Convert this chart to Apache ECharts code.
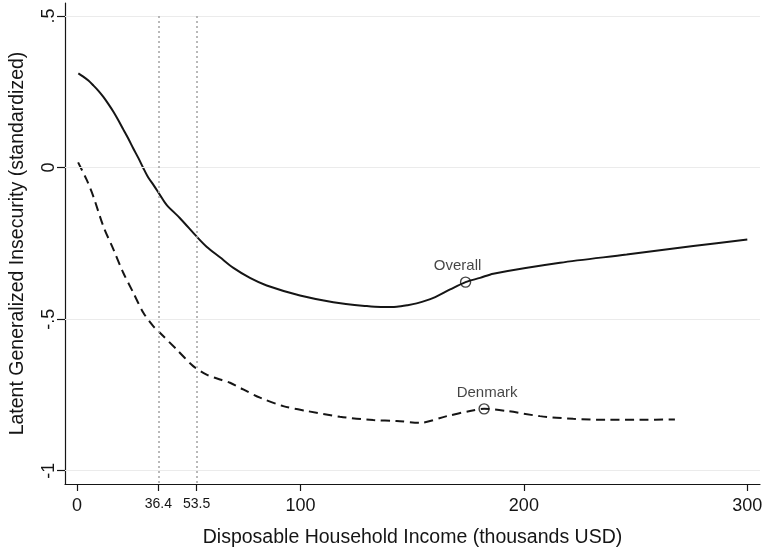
<!DOCTYPE html>
<html>
<head>
<meta charset="utf-8">
<script src="https://cdn.jsdelivr.net/npm/echarts@6/dist/echarts.min.js"></script>
<style>
  html, body { margin: 0; padding: 0; background: #fff; }
  #chart { width: 765px; height: 549px; }
</style>
</head>
<body>
<div id="chart"></div>
<script>
// Predicted latent insecurity by disposable household income
const overallIncome = [0.6, 2.8, 5.1, 7.3, 9.6, 11.8, 14.0, 16.3, 18.5, 20.7, 23.0, 25.2, 27.5, 29.7, 31.9, 34.2, 37.1, 40.1, 46.1, 53.6, 58, 64, 70, 77.4, 84.9, 99.8, 114.7, 129.7, 136, 143.1, 148, 152, 159.5, 167, 173.9, 180.4, 186.3, 216.2, 246, 275.8, 300];
const overallScore  = [0.311, 0.300, 0.287, 0.271, 0.253, 0.233, 0.210, 0.184, 0.156, 0.126, 0.095, 0.063, 0.031, -0.002, -0.033, -0.057, -0.090, -0.123, -0.167, -0.228, -0.261, -0.296, -0.331, -0.364, -0.389, -0.422, -0.444, -0.457, -0.460, -0.459, -0.454, -0.448, -0.430, -0.402, -0.378, -0.364, -0.350, -0.314, -0.287, -0.259, -0.237];

const denmarkIncome = [0.5, 4.3, 7.3, 11.8, 16.3, 20.7, 25.2, 29.7, 34.1, 37.1, 44.6, 52, 58, 64, 68.5, 74.4, 81.9, 92.3, 102.8, 117.7, 132.6, 143.1, 153.5, 165.5, 175.9, 182.2, 192.3, 207.2, 222.1, 237.1, 252, 267.6];
const denmarkScore  = [0.017, -0.040, -0.095, -0.194, -0.270, -0.347, -0.413, -0.479, -0.523, -0.545, -0.600, -0.655, -0.683, -0.699, -0.710, -0.732, -0.759, -0.787, -0.803, -0.822, -0.833, -0.836, -0.842, -0.820, -0.803, -0.796, -0.803, -0.820, -0.829, -0.832, -0.832, -0.831];

// Labelled points on each curve
const markerNames  = ['Overall', 'Denmark'];
const markerIncome = [173.9, 182.2];
const markerScore  = [-0.378, -0.796];

// Reference incomes drawn as dotted verticals
const refIncomes = [36.4, 53.5];

// Axis ticks
const xTickValues = [0, 36.4, 53.5, 100, 200, 300];
const yTickValues = [-1, -0.5, 0, 0.5];
const yTickLabels = ['-1', '-.5', '0', '.5'];

const FONT = "'Liberation Sans', Arial, Helvetica, sans-serif";
const INK = '#151515';

const pairs = (xs, ys) => xs.map((x, i) => [x, ys[i]]);

const chart = echarts.init(document.getElementById('chart'), null, { renderer: 'canvas' });

chart.setOption({
  animation: false,
  backgroundColor: '#ffffff',
  grid: { left: 65, right: 5, top: 3, bottom: 65, containLabel: false, outerBoundsMode: 'none' },
  xAxis: {
    type: 'value',
    min: -5.37,
    max: 305.68,
    name: 'Disposable Household Income (thousands USD)',
    nameLocation: 'middle',
    nameGap: 44,
    nameTextStyle: { fontFamily: FONT, fontSize: 19.5, color: INK },
    axisLine: { show: true, onZero: false, lineStyle: { color: INK, width: 1.2 } },
    axisTick: { show: true, customValues: xTickValues, length: 7, lineStyle: { color: INK, width: 1.2 } },
    axisLabel: {
      customValues: xTickValues,
      margin: 13,
      fontFamily: FONT,
      fontSize: 18,
      color: INK,
      formatter: v => (refIncomes.indexOf(v) >= 0 ? '{s|' + v + '}' : String(v)),
      rich: { s: { fontFamily: FONT, fontSize: 14, color: INK } }
    },
    splitLine: { show: false }
  },
  yAxis: {
    type: 'value',
    min: -1.0439,
    max: 0.5429,
    name: 'Latent Generalized Insecurity (standardized)',
    nameLocation: 'middle',
    nameGap: 37,
    nameRotate: 90,
    nameTextStyle: { fontFamily: FONT, fontSize: 19.5, color: INK },
    axisLine: { show: true, onZero: false, lineStyle: { color: INK, width: 1.2 } },
    axisTick: { show: true, customValues: yTickValues, length: 8, lineStyle: { color: INK, width: 1.2 } },
    axisLabel: {
      customValues: yTickValues,
      rotate: 90,
      margin: 7,
      fontFamily: FONT,
      fontSize: 18,
      color: INK,
      formatter: v => {
        const i = yTickValues.findIndex(t => Math.abs(t - v) < 1e-9);
        return i >= 0 ? yTickLabels[i] : '';
      }
    },
    splitLine: { show: false }
  },
  series: [
    {
      // gridlines and reference income lines
      type: 'line',
      data: [],
      z: 1,
      silent: true,
      markLine: {
        silent: true,
        symbol: 'none',
        label: { show: false },
        animation: false,
        data: [
          ...yTickValues.map(v => ({ yAxis: v, lineStyle: { color: '#ebebeb', width: 1.2, type: 'solid' } })),
          ...refIncomes.map(v => [
            { coord: [v, 0.5], lineStyle: { color: '#a8a8a8', width: 1.6, type: [2, 3] } },
            { coord: [v, -1.0439] }
          ])
        ]
      }
    },
    {
      name: 'Overall',
      type: 'line',
      z: 3,
      data: pairs(overallIncome, overallScore),
      smooth: 0.3,
      showSymbol: false,
      lineStyle: { color: INK, width: 2 }
    },
    {
      name: 'Denmark',
      type: 'line',
      z: 3,
      data: pairs(denmarkIncome, denmarkScore),
      smooth: 0.3,
      showSymbol: false,
      lineStyle: { color: INK, width: 2, type: [9, 5.5] }
    },
    {
      type: 'scatter',
      z: 4,
      data: markerNames.map((n, i) => ({
        name: n,
        value: [markerIncome[i], markerScore[i]],
        label: { offset: [i === 0 ? -8 : 3, 0] }
      })),
      symbol: 'circle',
      symbolSize: 10,
      itemStyle: { color: 'rgba(255,255,255,0)', borderColor: INK, borderWidth: 1.4 },
      label: {
        show: true,
        position: 'top',
        distance: 3,
        formatter: p => p.name,
        fontFamily: FONT,
        fontSize: 15,
        color: INK
      }
    }
  ]
});
</script>
</body>
</html>
